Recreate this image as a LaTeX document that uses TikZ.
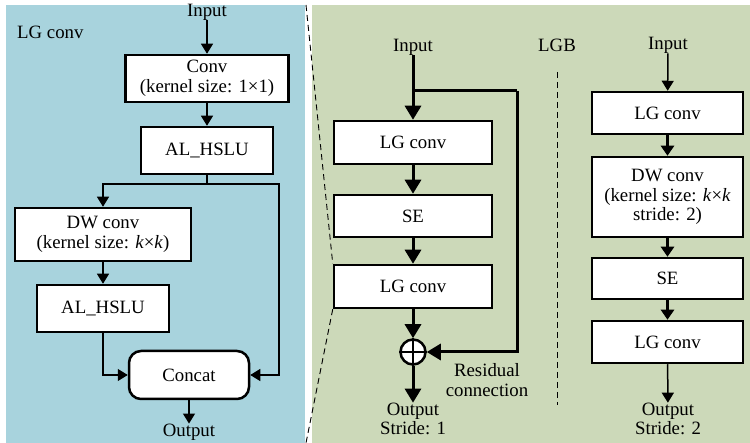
\documentclass[tikz,border=0pt]{standalone}
\usepackage{fontspec}
\setmainfont{Liberation Serif}
\usetikzlibrary{arrows.meta}
\definecolor{bluebg}{HTML}{A8D3DD}
\definecolor{greenbg}{HTML}{CCD9B9}
\begin{document}
\begin{tikzpicture}[x=1pt,y=-1pt,
  font=\fontsize{18.8}{19.5}\selectfont,
  box/.style={draw, line width=2.5pt, fill=white, inner sep=0pt, align=center},
  lbl/.style={inner sep=0pt, align=center},
  thinarr/.style={line width=1.2pt, -{Triangle[length=10pt,width=12pt]}},
  thinline/.style={line width=1.2pt},
  thickarr/.style={line width=3pt, -{Triangle[length=14pt,width=16pt]}},
  thickline/.style={line width=3pt},
  midarr/.style={line width=3pt, -{Triangle[length=10pt,width=13pt]}},
  zoomline/.style={line width=0.9pt, dash pattern=on 6pt off 4pt}]
\useasboundingbox (0,0) rectangle (750,443);
\fill[white] (0,0) rectangle (750,443);
\fill[bluebg] (6,5) rectangle (305,443);
\fill[greenbg] (312,5) rectangle (750,443);

% ---------- left panel: LG conv ----------
\node[lbl, anchor=west] (title) at (17,32) {LG conv};
\node[lbl] (inL) at (207,12) {Input};
\node[box, minimum width=163pt, minimum height=47pt] (conv) at (207,78.5) {Conv\\(kernel size: 1×1)};
\node[box, minimum width=132pt, minimum height=47pt] (al1) at (207,150.5) {AL\_HSLU};
\node[box, minimum width=176pt, minimum height=53pt] (dw) at (103,234.5) {DW conv\\(kernel size: \textit{k}×\textit{k})};
\node[box, minimum width=132pt, minimum height=47pt] (al2) at (103,308.5) {AL\_HSLU};
\node[box, rounded corners=12pt, minimum width=120pt, minimum height=48pt] (concat) at (189,375) {Concat};
\node[lbl] (outL) at (189,432) {Output};
\coordinate (sp) at (207,184);
\coordinate (cr) at (279,184);

\draw[thinarr] (inL) -- (conv);
\draw[thinarr] (conv) -- (al1);
\draw[thinline] (al1.south) -- (sp);
\draw[thinarr] (sp) -| (dw.north);
\draw[thinarr] (sp) -- (cr) |- (concat.east);
\draw[thinarr] (dw) -- (al2);
\draw[thinarr] (al2.south) |- (concat.west);
\draw[thinarr] (concat) -- (outL);

% ---------- middle: LGB stride 1 ----------
\node[lbl] (inM) at (413,47) {Input};
\node[box, minimum width=158pt, minimum height=43pt] (lg1) at (413,142.5) {LG conv};
\node[box, minimum width=158pt, minimum height=42pt] (se1) at (413,216) {SE};
\node[box, minimum width=158pt, minimum height=43pt] (lg2) at (413,286.5) {LG conv};
\node[circle, draw, line width=2.5pt, fill=white, minimum size=25pt, inner sep=0pt] (add) at (413,352) {};
\draw[line width=2.5pt] (add.north) -- (add.south) (add.west) -- (add.east);
\node[lbl] (outM) at (413,419) {Output\\Stride: 1};
\node[lbl] (res) at (487,380) {Residual\\connection};
\coordinate (bm) at (413,91);
\coordinate (bc) at (517,91);

\draw[thickline] (inM) -- (bm);
\draw[thickarr] (bm) -- (lg1);
\draw[thickline] (bm) -- (bc);
\draw[thickarr] (bc) |- (add.east);
\draw[thickarr] (lg1) -- (se1);
\draw[thickarr] (se1) -- (lg2);
\draw[thickarr] (lg2) -- (add);
\draw[thickarr] (add) -- (outM);

% zoom lines
\coordinate (zt) at (306,5);
\coordinate (zb) at (306,443);
\draw[zoomline] (zt) -- (lg2.north west);
\draw[zoomline] (lg2.south west) -- (zb);

% separator
\node[lbl] (lgb) at (557,45) {LGB};
\coordinate (dt) at (557,72);
\coordinate (db) at (557,405);
\draw[zoomline] (dt) -- (db);

% ---------- right: LGB stride 2 ----------
\node[lbl] (inR) at (668,45) {Input};
\node[box, minimum width=151pt, minimum height=42pt] (r1) at (667.5,113) {LG conv};
\node[box, minimum width=151pt, minimum height=80pt] (r2) at (667.5,197) {DW conv\\(kernel size: \textit{k}×\textit{k}\\stride: 2)};
\node[box, minimum width=151pt, minimum height=41pt] (r3) at (667.5,278.5) {SE};
\node[box, minimum width=151pt, minimum height=42pt] (r4) at (667.5,342) {LG conv};
\node[lbl] (outR) at (668,419) {Output\\Stride: 2};

\draw[thinarr, line width=1.5pt] (inR) -- (r1);
\draw[midarr] (r1) -- (r2);
\draw[midarr] (r2) -- (r3);
\draw[midarr] (r3) -- (r4);
\draw[thinarr, line width=1.5pt] (r4) -- (outR);
\end{tikzpicture}
\end{document}
